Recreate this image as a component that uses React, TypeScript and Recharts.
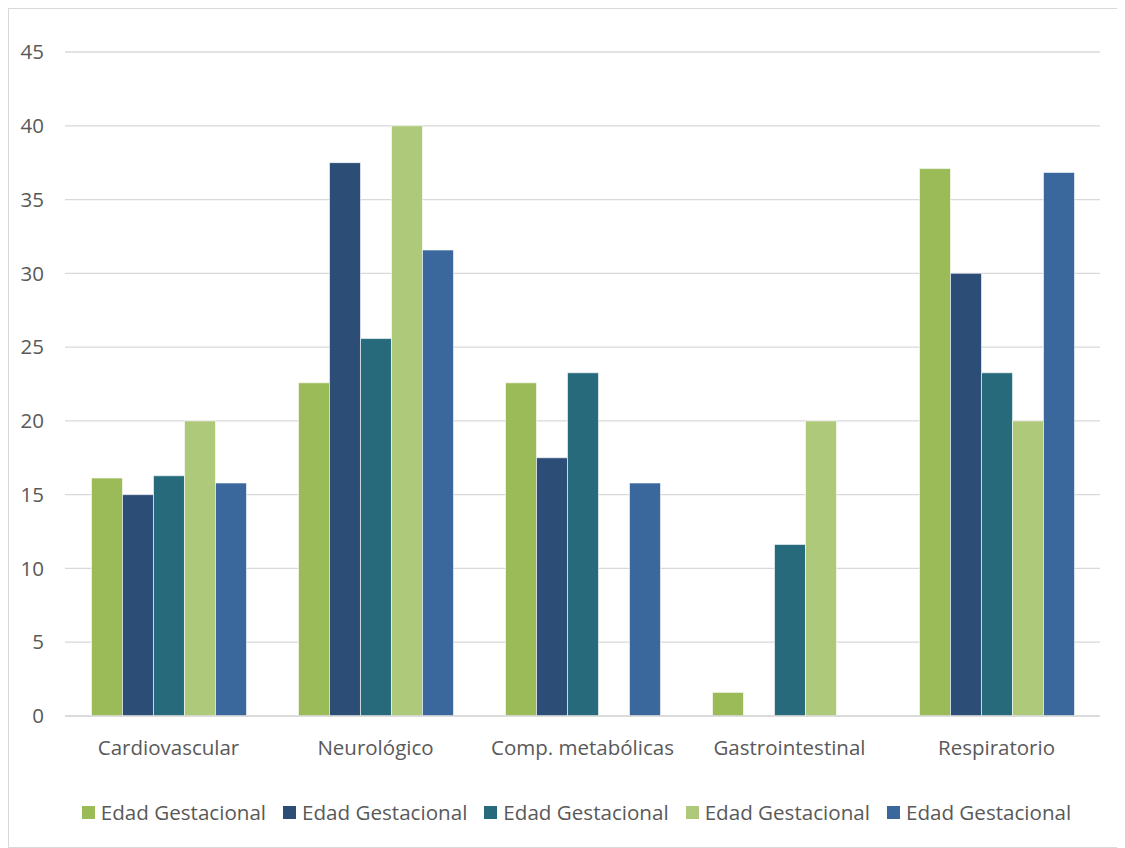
import { BarChart, Bar, XAxis, YAxis, CartesianGrid, Legend } from 'recharts'

const categories = ['Cardiovascular', 'Neurológico', 'Comp. metabólicas', 'Gastrointestinal', 'Respiratorio']

const serie1 = [16.13, 22.58, 22.58, 1.6, 37.1]
const serie2 = [15.0, 37.5, 17.5, 0, 30.0]
const serie3 = [16.28, 25.58, 23.26, 11.63, 23.26]
const serie4 = [20.0, 40.0, 0, 20.0, 20.0]
const serie5 = [15.79, 31.58, 15.79, 0, 36.84]

const seriesNames = ['Edad Gestacional', 'Edad Gestacional', 'Edad Gestacional', 'Edad Gestacional', 'Edad Gestacional']
const seriesColors = ['#9BBB59', '#2C4D75', '#276A7C', '#AFC97A', '#3A679C']
const yTicks = [0, 5, 10, 15, 20, 25, 30, 35, 40, 45]

const allSeries = [serie1, serie2, serie3, serie4, serie5]

const data = categories.map((name, i) => {
  const row: Record<string, string | number> = { name }
  allSeries.forEach((s, j) => {
    row[`s${j + 1}`] = s[i]
  })
  return row
})

const FONT = '"Open Sans", "Noto Sans", sans-serif'
const TEXT = '#595959'

function LegendContent() {
  return (
    <div style={{ display: 'flex', justifyContent: 'center', paddingLeft: 44, fontFamily: FONT, fontSize: 20.6, lineHeight: '24px', color: TEXT }}>
      {seriesNames.map((n, i) => (
        <div key={i} style={{ display: 'flex', alignItems: 'center', marginRight: i < seriesNames.length - 1 ? 17 : 0 }}>
          <span style={{ width: 13, height: 13, background: seriesColors[i], marginRight: 6, display: 'inline-block' }} />
          <span>{n}</span>
        </div>
      ))}
    </div>
  )
}

export default function App() {
  return (
    <div style={{ width: 1115, height: 838, border: '1px solid #d9d9d9', background: '#fff' }}>
      <BarChart
        width={1115}
        height={838}
        data={data}
        margin={{ top: 43, right: 24, left: 0, bottom: 47 }}
        barCategoryGap="12.8%"
        barGap={0}
      >
        <CartesianGrid vertical={false} stroke="#d9d9d9" strokeWidth={1.3} />
        <XAxis
          dataKey="name"
          axisLine={{ stroke: '#d9d9d9', strokeWidth: 1.3 }}
          tickLine={false}
          tick={{ fill: TEXT, fontSize: 20.5, fontFamily: FONT }}
          tickMargin={18}
          height={60}
        />
        <YAxis
          domain={[0, 45]}
          ticks={yTicks}
          axisLine={false}
          tickLine={false}
          tickSize={0}
          tickMargin={21}
          width={56}
          tick={{ fill: TEXT, fontSize: 20.5, fontFamily: FONT }}
        />
        <Legend content={<LegendContent />} verticalAlign="bottom" wrapperStyle={{ top: 791, bottom: 'auto' }} />
        {seriesColors.map((c, i) => (
          <Bar
            key={i}
            dataKey={`s${i + 1}`}
            name={seriesNames[i]}
            fill={c}
            stroke="#ffffff"
            strokeWidth={0.6}
            isAnimationActive={false}
          />
        ))}
      </BarChart>
    </div>
  )
}
